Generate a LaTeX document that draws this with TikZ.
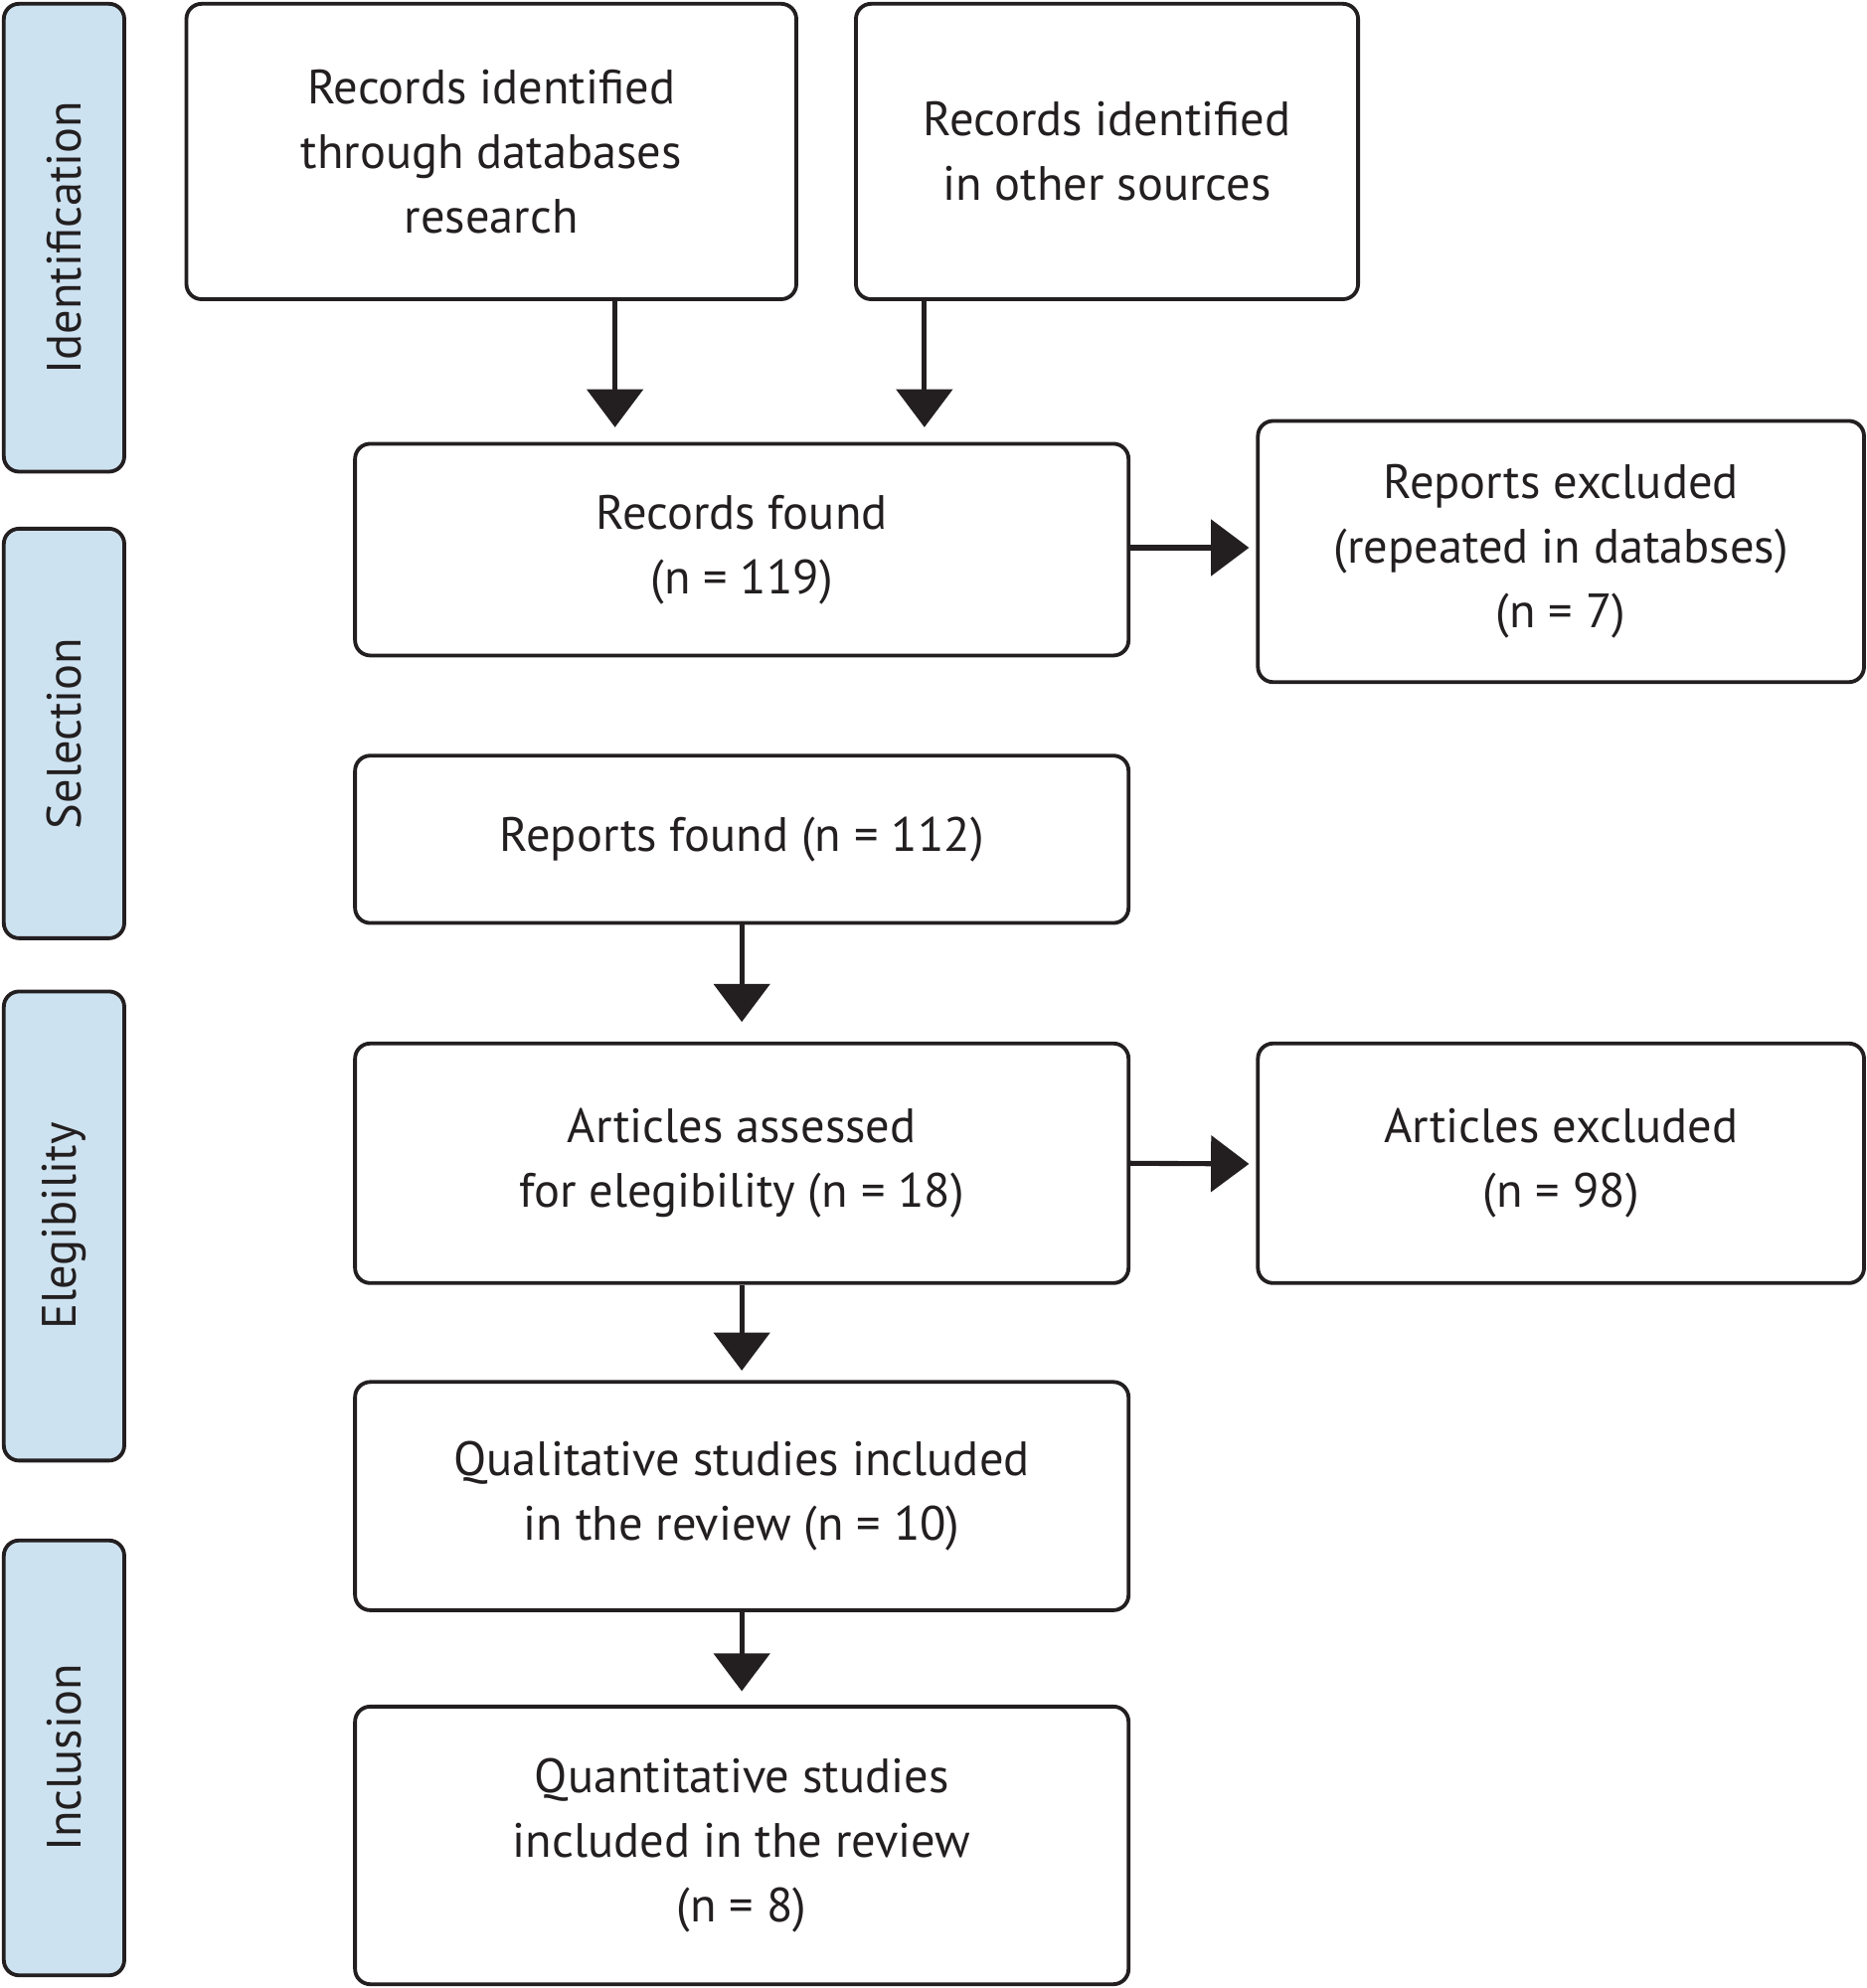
\documentclass[tikz,border=0pt]{standalone}
\usepackage{fontspec}
\setmainfont{PT Sans}
\usetikzlibrary{arrows.meta}
\definecolor{side}{RGB}{205,226,240}
\definecolor{ink}{RGB}{35,31,32}
\begin{document}
\begin{tikzpicture}[x=1pt,y=-1pt,
  box/.style={draw=ink,line width=3pt,rounded corners=12pt,align=center,font=\fontsize{38}{51}\selectfont,text=ink,inner sep=0pt},
  side/.style={box,fill=side,rotate=90},
  arr/.style={draw=ink,line width=4pt,-{Triangle[width=44pt,length=30pt]}}]
\useasboundingbox (0,0) rectangle (1472,1568);
\node[side,minimum width=369,minimum height=95] (s1) at (50.5,187.5) {Identification};
\node[side,minimum width=323,minimum height=95] (s2) at (50.5,578.5) {Selection};
\node[side,minimum width=370,minimum height=95] (s3) at (50.5,967) {Elegibility};
\node[side,minimum width=343,minimum height=95] (s4) at (50.5,1386.5) {Inclusion};
\node[box,minimum width=481,minimum height=233] (a) at (387.5,119.5) {Records identified\\through databases\\research};
\node[box,minimum width=396,minimum height=233] (b) at (873,119.5) {Records identified\\in other sources};
\node[box,minimum width=610,minimum height=167] (rf) at (585,433.5) {Records found\\(n = 119)};
\node[box,minimum width=478,minimum height=206] (e1) at (1231,435) {Reports excluded\\(repeated in databses)\\(n = 7)};
\node[box,minimum width=610,minimum height=132] (rp) at (585,662) {Reports found (n = 112)};
\node[box,minimum width=610,minimum height=189] (as) at (585,917.5) {Articles assessed\\for elegibility (n = 18)};
\node[box,minimum width=478,minimum height=189] (e2) at (1231,917.5) {Articles excluded\\(n = 98)};
\node[box,minimum width=610,minimum height=180] (ql) at (585,1180) {Qualitative studies included\\in the review (n = 10)};
\node[box,minimum width=610,minimum height=219] (qn) at (585,1455.5) {Quantitative studies\\included in the review\\(n = 8)};
\coordinate (ae) at (485,337);
\coordinate (be) at (729,337);
\draw[arr] (a.south -| ae) -- (ae);
\draw[arr] (b.south -| be) -- (be);
\draw[arr] (rf.east |- 0,432) -- (985,432);
\draw[arr] (rp) ++(0,66) -- (585,806);
\draw[arr] (as.east) -- (985,918);
\draw[arr] (as.south) -- (585,1081);
\draw[arr] (ql.south) -- (585,1334);
\end{tikzpicture}
\end{document}
